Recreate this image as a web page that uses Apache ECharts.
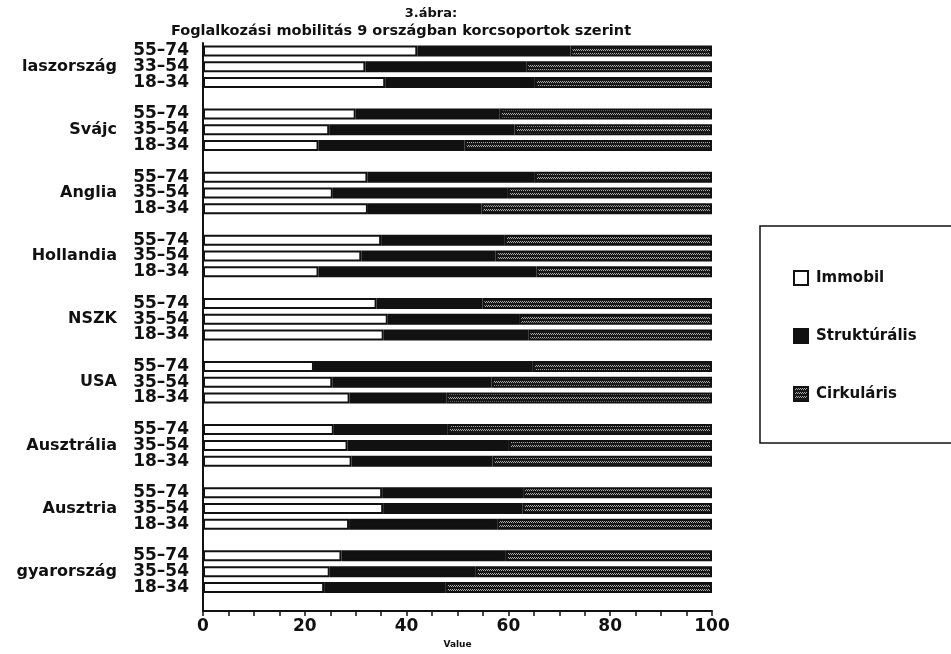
<!DOCTYPE html>
<html>
<head>
<meta charset="utf-8">
<script src="https://cdn.jsdelivr.net/npm/echarts@6/dist/echarts.min.js"></script>
<style>html,body{margin:0;padding:0;background:#fff;}#c{width:951px;height:654px;}</style>
</head>
<body>
<div id="c"></div>
<script>
const titleLine1 = '3.ábra:';
const titleLine2 = 'Foglalkozási mobilitás 9 országban korcsoportok szerint';
const countries = ['laszország','Svájc','Anglia','Hollandia','NSZK','USA','Ausztrália','Ausztria','gyarország'];
const ageLabels = [
  ['55–74','33–54','18–34'],
  ['55–74','35–54','18–34'],
  ['55–74','35–54','18–34'],
  ['55–74','35–54','18–34'],
  ['55–74','35–54','18–34'],
  ['55–74','35–54','18–34'],
  ['55–74','35–54','18–34'],
  ['55–74','35–54','18–34'],
  ['55–74','35–54','18–34']
];
const seriesNames = ['Immobil','Struktúrális','Cirkuláris'];
const immobil = [
  [42.1,31.9,35.8],[30.0,24.8,22.7],[32.3,25.5,32.4],[35.0,31.1,22.7],[34.1,36.3,35.5],
  [21.8,25.4,28.8],[25.7,28.4,29.2],[35.2,35.4,28.7],[27.2,24.9,23.8]
];
const strukturalis = [
  [30.1,31.6,29.4],[28.3,36.4,28.7],[32.9,34.4,22.3],[24.3,26.4,42.8],[20.8,25.8,28.4],
  [43.0,31.3,19.0],[22.4,31.7,27.7],[27.7,27.4,29.1],[32.3,28.7,23.9]
];
const cirkularis = [
  [27.8,36.5,34.8],[41.7,38.8,48.6],[34.8,40.1,45.3],[40.7,42.5,34.5],[45.1,37.9,36.1],
  [35.2,43.3,52.2],[51.9,39.9,43.1],[37.1,37.2,42.2],[40.5,46.4,52.3]
];
const xTickLabels = [0,20,40,60,80,100];

const cats = [];
function flat(arr){
  const out=[];
  arr.forEach(g=>{ g.forEach(v=>out.push(v)); out.push(null); });
  return out;
}
countries.forEach((c,i)=>{
  ageLabels[i].forEach((a,j)=>{ cats.push(c+'|'+a+'|'+j); });
  cats.push('gap'+i);
});

// hatched pattern for Cirkuláris
const pc = document.createElement('canvas');
pc.width = 6; pc.height = 4;
const px = pc.getContext('2d');
px.fillStyle = '#181818'; px.fillRect(0,0,6,4);
px.fillStyle = '#a8a8a8';
px.fillRect(0,1,1,1); px.fillRect(1,2,1,1); px.fillRect(2,1,1,1);
px.fillRect(3,2,1,1); px.fillRect(4,1,1,1); px.fillRect(5,2,1,1);
const hatch = {image: pc, repeat: 'repeat'};

const chart = echarts.init(document.getElementById('c'), null, {renderer:'canvas'});
const font = 'DejaVu Sans';
const baseBar = {type:'bar', stack:'t', barWidth: 11, yAxisIndex: 0, xAxisIndex: 0};
chart.setOption({
  backgroundColor:'#fff',
  animation:false,
  textStyle:{fontFamily:font, color:'#111'},
  graphic:[
    {type:'text', x:431, y:14, style:{text:titleLine1, font:'bold 13px "DejaVu Sans"', fill:'#111', textAlign:'center', textVerticalAlign:'middle'}},
    {type:'text', x:401, y:31, style:{text:titleLine2, font:'bold 14.5px "DejaVu Sans"', fill:'#111', textAlign:'center', textVerticalAlign:'middle'}}
  ],
  legend:{
    orient:'vertical', left:760, top:226,
    padding:[44,200,41,33],
    borderColor:'#111', borderWidth:1.5,
    itemWidth:14, itemHeight:14, itemGap:42,
    icon:'rect',
    textStyle:{fontFamily:font, fontWeight:'bold', fontSize:15, color:'#111', padding:[0,0,0,3]},
    data:seriesNames
  },
  grid:{left:203, top:43, width:509, height:574},
  xAxis:{
    type:'value', min:0, max:100, interval:5,
    name:'Value', nameLocation:'middle', nameGap:28,
    nameTextStyle:{fontFamily:font, fontWeight:'bold', fontSize:9, color:'#111'},
    axisLine:{show:true, lineStyle:{color:'#111', width:2}},
    axisTick:{show:true, length:5, lineStyle:{color:'#111', width:1.5}},
    splitLine:{show:false},
    axisLabel:{margin:7, fontFamily:font, fontWeight:'bold', fontSize:17, color:'#111',
      formatter:v=> xTickLabels.indexOf(v)>=0 ? String(v) : ''}
  },
  yAxis:[
    {type:'category', data:cats, inverse:true,
     axisLine:{show:true, lineStyle:{color:'#111', width:2}},
     axisTick:{show:false},
     axisLabel:{interval:0, margin:14, fontFamily:font, fontWeight:'bold', fontSize:17, color:'#111',
       formatter:v=>{ const p=v.split('|'); return p.length>1 ? p[1] : ''; }}
    },
    {type:'category', data:cats, inverse:true, position:'left',
     axisLine:{show:false}, axisTick:{show:false},
     axisLabel:{interval:0, margin:86, fontFamily:font, fontWeight:'bold', fontSize:16, color:'#111',
       formatter:v=>{ const p=v.split('|'); return (p.length>1 && p[2]==='1') ? p[0] : ''; }}
    }
  ],
  series:[
    Object.assign({}, baseBar, {name:seriesNames[0], data:flat(immobil),
      itemStyle:{color:'#fff', borderColor:'#111', borderWidth:2}}),
    Object.assign({}, baseBar, {name:seriesNames[1], data:flat(strukturalis),
      itemStyle:{color:'#111', borderColor:'#111', borderWidth:2}}),
    Object.assign({}, baseBar, {name:seriesNames[2], data:flat(cirkularis),
      itemStyle:{color:hatch, borderColor:'#111', borderWidth:2}})
  ]
});
</script>
</body>
</html>
